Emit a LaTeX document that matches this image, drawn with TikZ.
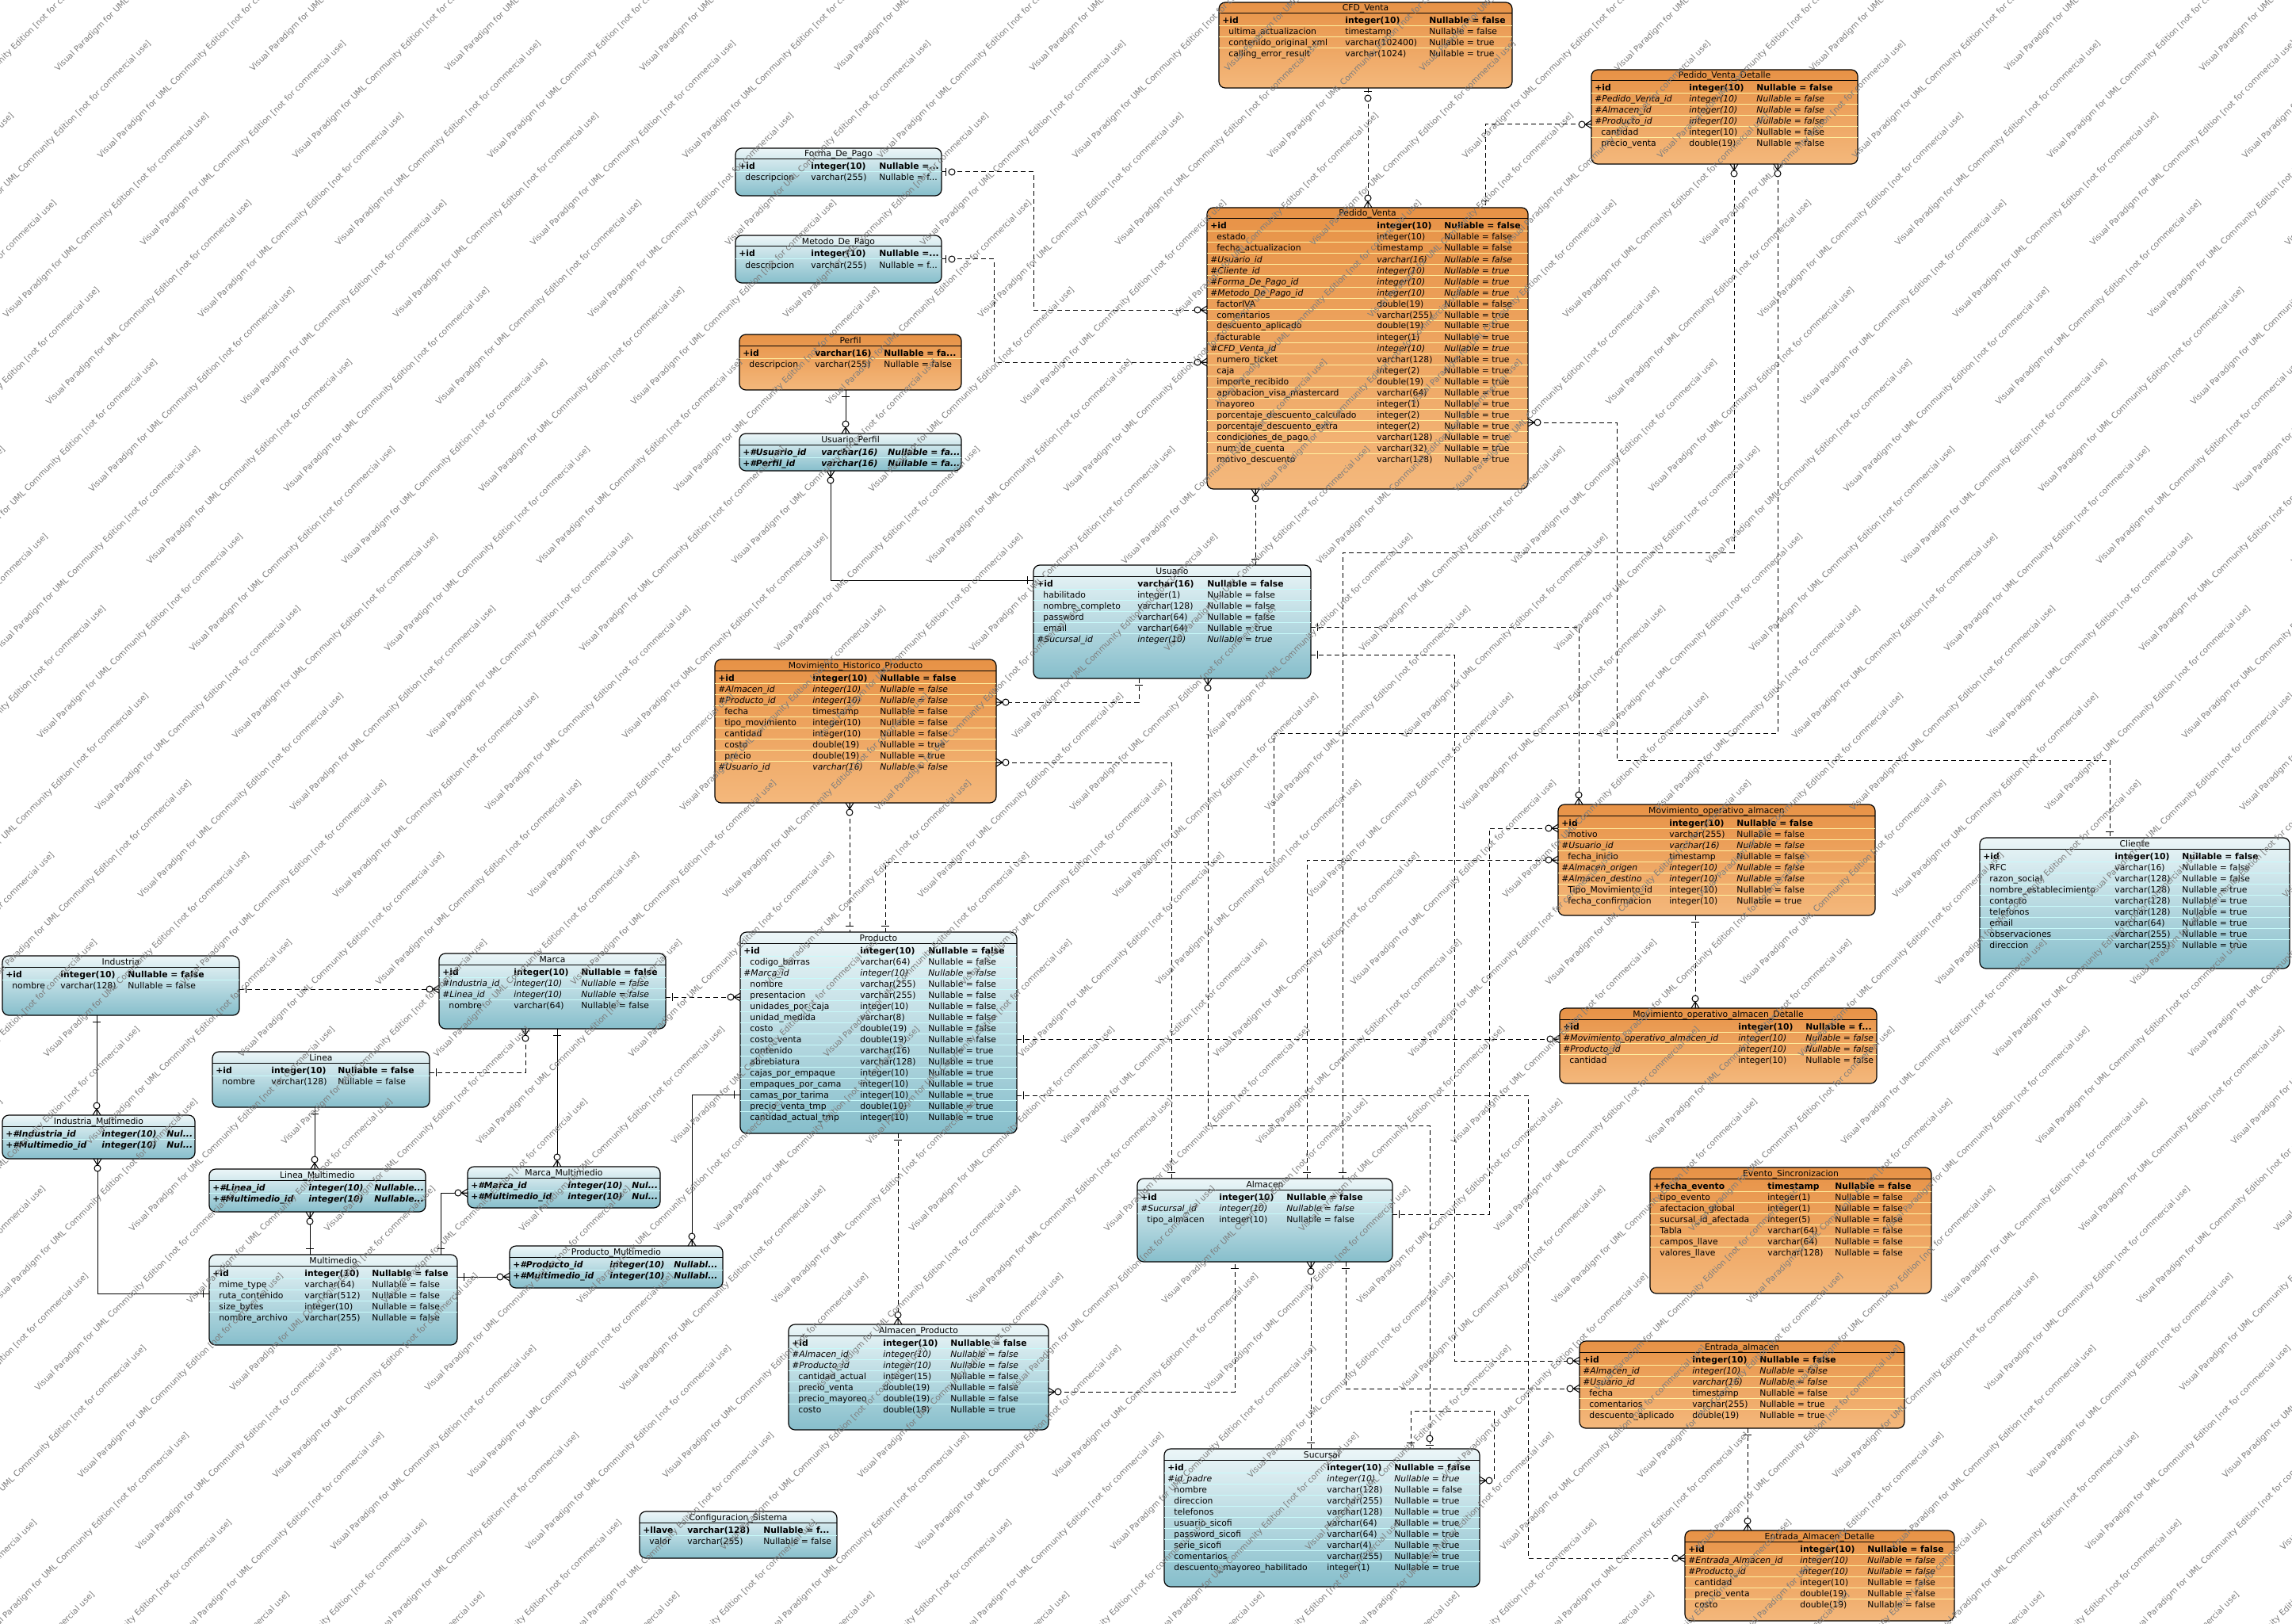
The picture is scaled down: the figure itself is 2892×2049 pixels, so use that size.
\documentclass[tikz,border=0pt]{standalone}
\usepackage{fontspec}
\setmainfont{DejaVu Sans}
\usetikzlibrary{fit}
\definecolor{otop}{RGB}{231,146,70}
\definecolor{obot}{RGB}{244,184,124}
\definecolor{btop}{RGB}{236,246,248}
\definecolor{bbot}{RGB}{134,190,203}
\definecolor{osep}{RGB}{255,240,160}
\definecolor{bsep}{RGB}{200,250,250}
\definecolor{wmgray}{RGB}{125,125,125}
\newcommand\fs{\fontsize{5.4}{6}\selectfont}
\newcount\rwi
\def\offk{4}\def\offf{4}\def\offkf{4}\def\offn{12}
% table: id, title, x, y, w, h, colour (o/b), col2, col3
\newcommand\tb[9]{%
  \gdef\tid{#1}\gdef\tx{#3}\gdef\ty{#4}\gdef\tw{#5}\gdef\sepcol{#7sep}%
  \gdef\tcb{#8}\gdef\tcc{#9}\global\rwi=0
  \coordinate (#1-nw) at (#3,#4);
  \coordinate (#1-se) at (#3+#5,#4+#6);
  \node[tbl#7, fit=(#1-nw)(#1-se)] (#1) {};
  \node[ttl] (#1-title) at (#3+#5/2,#4+11) {#2};
  \draw[hline] (#3,#4+14) -- (#3+#5,#4+14);
}
% row: style (k,f,kf,n), name, type, nullable
\newcommand\rw[4]{%
  \global\advance\rwi by 1
  \edef\rn{\the\rwi}\edef\roff{\csname off#1\endcsname}%
  \pgfmathsetmacro\ry{\ty+23+14*(\rn-1)}%
  \ifnum\rwi>1 \draw[line width=0.5pt,draw=\sepcol] (\tx,\ry-7) -- (\tx+\tw,\ry-7);\fi
  \node[txt,r#1] (\tid-\rn a) at (\tx+\roff,\ry+4) {#2};
  \node[txt,r#1] (\tid-\rn b) at (\tx+\tcb,\ry+4) {#3};
  \node[txt,r#1] (\tid-\rn c) at (\tx+\tcc,\ry+4) {#4};
}
\newcommand\mOne[2]{\begin{scope}[shift={(#1)},rotate=#2]\draw[mk] (8,-5) -- (8,5);\end{scope}}
\newcommand\mZO[2]{\begin{scope}[shift={(#1)},rotate=#2]\draw[mk] (5,-5) -- (5,5); \draw[mk,fill=white] (13,0) circle[radius=4];\end{scope}}
\newcommand\mMany[2]{\begin{scope}[shift={(#1)},rotate=#2]\draw[mk] (0,-5) -- (8,0) -- (0,5) (0,0) -- (8,0); \draw[mk,fill=white] (12,0) circle[radius=4];\end{scope}}
\begin{document}
\catcode`\_=12
\begin{tikzpicture}[x=0.5pt,y=-0.5pt,
  tblo/.style={draw=black,line width=0.6pt,rounded corners=4pt,top color=otop,bottom color=obot,inner sep=0pt,outer sep=0pt},
  tblb/.style={draw=black,line width=0.6pt,rounded corners=4pt,top color=btop,bottom color=bbot,inner sep=0pt,outer sep=0pt},
  ttl/.style={anchor=base,inner sep=0pt,font=\fs},
  txt/.style={anchor=base west,inner sep=0pt},
  rk/.style={font=\fs\bfseries}, rf/.style={font=\fs\itshape},
  rkf/.style={font=\fs\bfseries\itshape}, rn/.style={font=\fs},
  hline/.style={line width=0.5pt},
  dsh/.style={line width=0.5pt,dash pattern=on 3pt off 2pt},
  sol/.style={line width=0.5pt},
  mk/.style={line width=0.5pt,solid},
  wm/.style={rotate=45,anchor=base west,inner sep=0pt,text=wmgray,font=\fontsize{5.2}{6}\selectfont}]
\fill[white] (0,0) rectangle (2892,2049);
\useasboundingbox (0,0) rectangle (2892,2049);

% ---------------- tables ----------------
\tb{CFD}{CFD_Venta}{1538}{3}{370}{108}{o}{159}{265}
\rw{k}{+id}{integer(10)}{Nullable = false}
\rw{n}{ultima_actualizacion}{timestamp}{Nullable = false}
\rw{n}{contenido_original_xml}{varchar(102400)}{Nullable = true}
\rw{n}{calling_error_result}{varchar(1024)}{Nullable = true}

\tb{PVD}{Pedido_Venta_Detalle}{2008}{88}{336}{119}{o}{123}{208}
\rw{k}{+id}{integer(10)}{Nullable = false}
\rw{f}{\#Pedido_Venta_id}{integer(10)}{Nullable = false}
\rw{f}{\#Almacen_id}{integer(10)}{Nullable = false}
\rw{f}{\#Producto_id}{integer(10)}{Nullable = false}
\rw{n}{cantidad}{integer(10)}{Nullable = false}
\rw{n}{precio_venta}{double(19)}{Nullable = false}

\tb{FP}{Forma_De_Pago}{928}{187}{260}{60}{b}{95}{181}
\rw{k}{+id}{integer(10)}{Nullable =...}
\rw{n}{descripcion}{varchar(255)}{Nullable = f...}

\tb{MP}{Metodo_De_Pago}{928}{297}{260}{60}{b}{95}{181}
\rw{k}{+id}{integer(10)}{Nullable =...}
\rw{n}{descripcion}{varchar(255)}{Nullable = f...}

\tb{PF}{Perfil}{933}{422}{280}{70}{o}{95}{182}
\rw{k}{+id}{varchar(16)}{Nullable = fa...}
\rw{n}{descripcion}{varchar(255)}{Nullable = false}

\tb{UP}{Usuario_Perfil}{933}{547}{280}{47}{b}{103}{187}
\rw{kf}{+\#Usuario_id}{varchar(16)}{Nullable = fa...}
\rw{kf}{+\#Perfil_id}{varchar(16)}{Nullable = fa...}

\tb{PV}{Pedido_Venta}{1523}{262}{405}{355}{o}{214}{299}
\rw{k}{+id}{integer(10)}{Nullable = false}
\rw{n}{estado}{integer(10)}{Nullable = false}
\rw{n}{fecha_actualizacion}{timestamp}{Nullable = false}
\rw{f}{\#Usuario_id}{varchar(16)}{Nullable = false}
\rw{f}{\#Cliente_id}{integer(10)}{Nullable = true}
\rw{f}{\#Forma_De_Pago_id}{integer(10)}{Nullable = true}
\rw{f}{\#Metodo_De_Pago_id}{integer(10)}{Nullable = true}
\rw{n}{factorIVA}{double(19)}{Nullable = false}
\rw{n}{comentarios}{varchar(255)}{Nullable = true}
\rw{n}{descuento_aplicado}{double(19)}{Nullable = true}
\rw{n}{facturable}{integer(1)}{Nullable = true}
\rw{f}{\#CFD_Venta_id}{integer(10)}{Nullable = true}
\rw{n}{numero_ticket}{varchar(128)}{Nullable = true}
\rw{n}{caja}{integer(2)}{Nullable = true}
\rw{n}{importe_recibido}{double(19)}{Nullable = true}
\rw{n}{aprobacion_visa_mastercard}{varchar(64)}{Nullable = true}
\rw{n}{mayoreo}{integer(1)}{Nullable = true}
\rw{n}{porcentaje_descuento_calculado}{integer(2)}{Nullable = true}
\rw{n}{porcentaje_descuento_extra}{integer(2)}{Nullable = true}
\rw{n}{condiciones_de_pago}{varchar(128)}{Nullable = true}
\rw{n}{num_de_cuenta}{varchar(32)}{Nullable = true}
\rw{n}{motivo_descuento}{varchar(128)}{Nullable = true}

\tb{US}{Usuario}{1304}{713}{350}{143}{b}{131}{219}
\rw{k}{+id}{varchar(16)}{Nullable = false}
\rw{n}{habilitado}{integer(1)}{Nullable = false}
\rw{n}{nombre_completo}{varchar(128)}{Nullable = false}
\rw{n}{password}{varchar(64)}{Nullable = false}
\rw{n}{email}{varchar(64)}{Nullable = true}
\rw{f}{\#Sucursal_id}{integer(10)}{Nullable = true}

\tb{MHP}{Movimiento_Historico_Producto}{902}{832}{355}{181}{o}{123}{208}
\rw{k}{+id}{integer(10)}{Nullable = false}
\rw{f}{\#Almacen_id}{integer(10)}{Nullable = false}
\rw{f}{\#Producto_id}{integer(10)}{Nullable = false}
\rw{n}{fecha}{timestamp}{Nullable = false}
\rw{n}{tipo_movimiento}{integer(10)}{Nullable = false}
\rw{n}{cantidad}{integer(10)}{Nullable = false}
\rw{n}{costo}{double(19)}{Nullable = true}
\rw{n}{precio}{double(19)}{Nullable = true}
\rw{f}{\#Usuario_id}{varchar(16)}{Nullable = false}

\tb{MOA}{Movimiento_operativo_almacen}{1966}{1015}{400}{140}{o}{140}{225}
\rw{k}{+id}{integer(10)}{Nullable = false}
\rw{n}{motivo}{varchar(255)}{Nullable = false}
\rw{f}{\#Usuario_id}{varchar(16)}{Nullable = false}
\rw{n}{fecha_inicio}{timestamp}{Nullable = false}
\rw{f}{\#Almacen_origen}{integer(10)}{Nullable = false}
\rw{f}{\#Almacen_destino}{integer(10)}{Nullable = false}
\rw{n}{Tipo_Movimiento_id}{integer(10)}{Nullable = false}
\rw{n}{fecha_confirmacion}{integer(10)}{Nullable = true}

\tb{CL}{Cliente}{2498}{1057}{391}{165}{b}{170}{255}
\rw{k}{+id}{integer(10)}{Nullable = false}
\rw{n}{RFC}{varchar(16)}{Nullable = false}
\rw{n}{razon_social}{varchar(128)}{Nullable = false}
\rw{n}{nombre_establecimiento}{varchar(128)}{Nullable = true}
\rw{n}{contacto}{varchar(128)}{Nullable = true}
\rw{n}{telefonos}{varchar(128)}{Nullable = true}
\rw{n}{email}{varchar(64)}{Nullable = true}
\rw{n}{observaciones}{varchar(255)}{Nullable = true}
\rw{n}{direccion}{varchar(255)}{Nullable = true}

\tb{IN}{Industria}{3}{1206}{299}{75}{b}{73}{158}
\rw{k}{+id}{integer(10)}{Nullable = false}
\rw{n}{nombre}{varchar(128)}{Nullable = false}

\tb{MA}{Marca}{554}{1203}{286}{95}{b}{94}{179}
\rw{k}{+id}{integer(10)}{Nullable = false}
\rw{f}{\#Industria_id}{integer(10)}{Nullable = false}
\rw{f}{\#Linea_id}{integer(10)}{Nullable = false}
\rw{n}{nombre}{varchar(64)}{Nullable = false}

\tb{PR}{Producto}{934}{1176}{349}{254}{b}{151}{237}
\rw{k}{+id}{integer(10)}{Nullable = false}
\rw{n}{codigo_barras}{varchar(64)}{Nullable = false}
\rw{f}{\#Marca_id}{integer(10)}{Nullable = false}
\rw{n}{nombre}{varchar(255)}{Nullable = false}
\rw{n}{presentacion}{varchar(255)}{Nullable = false}
\rw{n}{unidades_por_caja}{integer(10)}{Nullable = false}
\rw{n}{unidad_medida}{varchar(8)}{Nullable = false}
\rw{n}{costo}{double(19)}{Nullable = false}
\rw{n}{costo_venta}{double(19)}{Nullable = false}
\rw{n}{contenido}{varchar(16)}{Nullable = true}
\rw{n}{abrebiatura}{varchar(128)}{Nullable = true}
\rw{n}{cajas_por_empaque}{integer(10)}{Nullable = true}
\rw{n}{empaques_por_cama}{integer(10)}{Nullable = true}
\rw{n}{camas_por_tarima}{integer(10)}{Nullable = true}
\rw{n}{precio_venta_tmp}{double(10)}{Nullable = true}
\rw{n}{cantidad_actual_tmp}{integer(10)}{Nullable = true}

\tb{LI}{Linea}{268}{1327}{274}{70}{b}{74}{158}
\rw{k}{+id}{integer(10)}{Nullable = false}
\rw{n}{nombre}{varchar(128)}{Nullable = false}

\tb{IM}{Industria_Multimedio}{3}{1407}{243}{55}{b}{125}{207}
\rw{kf}{+\#Industria_id}{integer(10)}{Nul...}
\rw{kf}{+\#Multimedio_id}{integer(10)}{Nul...}

\tb{LM}{Linea_Multimedio}{264}{1475}{273}{54}{b}{125}{208}
\rw{kf}{+\#Linea_id}{integer(10)}{Nullable...}
\rw{kf}{+\#Multimedio_id}{integer(10)}{Nullable...}

\tb{MM}{Marca_Multimedio}{590}{1472}{243}{52}{b}{126}{207}
\rw{kf}{+\#Marca_id}{integer(10)}{Nul...}
\rw{kf}{+\#Multimedio_id}{integer(10)}{Nul...}

\tb{MU}{Multimedio}{264}{1583}{313}{114}{b}{120}{205}
\rw{k}{+id}{integer(10)}{Nullable = false}
\rw{n}{mime_type}{varchar(64)}{Nullable = false}
\rw{n}{ruta_contenido}{varchar(512)}{Nullable = false}
\rw{n}{size_bytes}{integer(10)}{Nullable = false}
\rw{n}{nombre_archivo}{varchar(255)}{Nullable = false}

\tb{PM}{Producto_Multimedio}{643}{1572}{269}{53}{b}{126}{207}
\rw{kf}{+\#Producto_id}{integer(10)}{Nullabl...}
\rw{kf}{+\#Multimedio_id}{integer(10)}{Nullabl...}

\tb{MOAD}{Movimiento_operativo_almacen_Detalle}{1968}{1272}{400}{95}{o}{225}{310}
\rw{k}{+id}{integer(10)}{Nullable = f...}
\rw{f}{\#Movimiento_operativo_almacen_id}{integer(10)}{Nullable = false}
\rw{f}{\#Producto_id}{integer(10)}{Nullable = false}
\rw{n}{cantidad}{integer(10)}{Nullable = false}

\tb{AL}{Almacen}{1435}{1487}{322}{105}{b}{103}{188}
\rw{k}{+id}{integer(10)}{Nullable = false}
\rw{f}{\#Sucursal_id}{integer(10)}{Nullable = false}
\rw{n}{tipo_almacen}{integer(10)}{Nullable = false}

\tb{ES}{Evento_Sincronizacion}{2082}{1473}{355}{159}{o}{148}{233}
\rw{k}{+fecha_evento}{timestamp}{Nullable = false}
\rw{n}{tipo_evento}{integer(1)}{Nullable = false}
\rw{n}{afectacion_global}{integer(1)}{Nullable = false}
\rw{n}{sucursal_id_afectada}{integer(5)}{Nullable = false}
\rw{n}{Tabla}{varchar(64)}{Nullable = false}
\rw{n}{campos_llave}{varchar(64)}{Nullable = false}
\rw{n}{valores_llave}{varchar(128)}{Nullable = false}

\tb{AP}{Almacen_Producto}{995}{1671}{328}{133}{b}{119}{204}
\rw{k}{+id}{integer(10)}{Nullable = false}
\rw{f}{\#Almacen_id}{integer(10)}{Nullable = false}
\rw{f}{\#Producto_id}{integer(10)}{Nullable = false}
\rw{n}{cantidad_actual}{integer(15)}{Nullable = false}
\rw{n}{precio_venta}{double(19)}{Nullable = false}
\rw{n}{precio_mayoreo}{double(19)}{Nullable = false}
\rw{n}{costo}{double(19)}{Nullable = true}

\tb{EA}{Entrada_almacen}{1993}{1692}{410}{110}{o}{142}{227}
\rw{k}{+id}{integer(10)}{Nullable = false}
\rw{f}{\#Almacen_id}{integer(10)}{Nullable = false}
\rw{f}{\#Usuario_id}{varchar(16)}{Nullable = false}
\rw{n}{fecha}{timestamp}{Nullable = false}
\rw{n}{comentarios}{varchar(255)}{Nullable = true}
\rw{n}{descuento_aplicado}{double(19)}{Nullable = true}

\tb{SU}{Sucursal}{1469}{1828}{398}{174}{b}{205}{290}
\rw{k}{+id}{integer(10)}{Nullable = false}
\rw{f}{\#id_padre}{integer(10)}{Nullable = true}
\rw{n}{nombre}{varchar(128)}{Nullable = false}
\rw{n}{direccion}{varchar(255)}{Nullable = true}
\rw{n}{telefonos}{varchar(128)}{Nullable = true}
\rw{n}{usuario_sicofi}{varchar(64)}{Nullable = true}
\rw{n}{password_sicofi}{varchar(64)}{Nullable = true}
\rw{n}{serie_sicofi}{varchar(4)}{Nullable = true}
\rw{n}{comentarios}{varchar(255)}{Nullable = true}
\rw{n}{descuento_mayoreo_habilitado}{integer(1)}{Nullable = true}

\tb{CS}{Configuracion_Sistema}{807}{1907}{249}{59}{b}{60}{156}
\rw{k}{+llave}{varchar(128)}{Nullable = f...}
\rw{n}{valor}{varchar(255)}{Nullable = false}

\tb{EAD}{Entrada_Almacen_Detalle}{2126}{1931}{340}{114}{o}{145}{230}
\rw{k}{+id}{integer(10)}{Nullable = false}
\rw{f}{\#Entrada_Almacen_id}{integer(10)}{Nullable = false}
\rw{f}{\#Producto_id}{integer(10)}{Nullable = false}
\rw{n}{cantidad}{integer(10)}{Nullable = false}
\rw{n}{precio_venta}{double(19)}{Nullable = false}
\rw{n}{costo}{double(19)}{Nullable = false}

% ---------------- connectors ----------------
\draw[dsh] (CFD.south -| 1726,0) -- (PV.north -| 1726,0);
\mZO{CFD.south -| 1726,0}{270}\mMany{PV.north -| 1726,0}{90}

\draw[dsh] (PVD.west |- 0,157) -- (1874,157) -- (PV.north -| 1874,0);
\mMany{PVD.west |- 0,157}{180}\mOne{PV.north -| 1874,0}{90}

\draw[dsh] (PV.east |- 0,533) -- (2040,533) -- (2040,959) -- (2662,959) -- (CL.north -| 2662,0);
\mMany{PV.east |- 0,533}{0}\mOne{CL.north -| 2662,0}{90}

\draw[dsh] (PVD.south -| 2188,0) -- (2188,697) -- (1694,697) -- (AL.north -| 1694,0);
\mMany{PVD.south -| 2188,0}{270}\mOne{AL.north -| 1694,0}{90}

\draw[dsh] (PVD.south -| 2243,0) -- (2243,925) -- (1607,925) -- (1607,1088) -- (1117,1088) -- (PR.north -| 1117,0);
\mMany{PVD.south -| 2243,0}{270}\mOne{PR.north -| 1117,0}{90}

\draw[dsh] (FP.east |- 0,217) -- (1304,217) -- (1304,391) -- (PV.west |- 0,391);
\mZO{FP.east |- 0,217}{0}\mMany{PV.west |- 0,391}{180}

\draw[dsh] (MP.east |- 0,327) -- (1254,327) -- (1254,457) -- (PV.west |- 0,457);
\mZO{MP.east |- 0,327}{0}\mMany{PV.west |- 0,457}{180}

\draw[sol] (PF.south -| 1067,0) -- (UP.north -| 1067,0);
\mOne{PF.south -| 1067,0}{270}\mMany{UP.north -| 1067,0}{90}

\draw[sol] (UP.south -| 1048,0) -- (1048,732) -- (US.west |- 0,732);
\mMany{UP.south -| 1048,0}{270}\mOne{US.west |- 0,732}{180}

\draw[dsh] (PV.south -| 1584,0) -- (US.north -| 1584,0);
\mMany{PV.south -| 1584,0}{270}\mOne{US.north -| 1584,0}{90}

\draw[dsh] (US.east |- 0,791) -- (1992,791) -- (MOA.north -| 1992,0);
\mOne{US.east |- 0,791}{0}\mMany{MOA.north -| 1992,0}{90}

\draw[dsh] (US.east |- 0,826) -- (1835,826) -- (1835,1717) -- (EA.west |- 0,1717);
\mOne{US.east |- 0,826}{0}\mMany{EA.west |- 0,1717}{180}

\draw[dsh] (US.south -| 1524,0) -- (1524,1420) -- (1804,1420) -- (SU.north -| 1804,0);
\mMany{US.south -| 1524,0}{270}\mZO{SU.north -| 1804,0}{90}

\draw[dsh] (US.south -| 1437,0) -- (1437,886) -- (MHP.east |- 0,886);
\mOne{US.south -| 1437,0}{270}\mMany{MHP.east |- 0,886}{0}

\draw[dsh] (MHP.east |- 0,962) -- (1478,962) -- (AL.north -| 1478,0);
\mMany{MHP.east |- 0,962}{0}\mOne{AL.north -| 1478,0}{90}

\draw[dsh] (MHP.south -| 1072,0) -- (PR.north -| 1072,0);
\mMany{MHP.south -| 1072,0}{270}\mOne{PR.north -| 1072,0}{90}

\draw[dsh] (AL.east |- 0,1532) -- (1879,1532) -- (1879,1045) -- (MOA.west |- 0,1045);
\mOne{AL.east |- 0,1532}{0}\mMany{MOA.west |- 0,1045}{180}

\draw[dsh] (AL.north -| 1649,0) -- (1649,1085) -- (MOA.west |- 0,1085);
\mOne{AL.north -| 1649,0}{90}\mMany{MOA.west |- 0,1085}{180}

\draw[dsh] (IN.east |- 0,1248) -- (MA.west |- 0,1248);
\mOne{IN.east |- 0,1248}{0}\mMany{MA.west |- 0,1248}{180}

\draw[dsh] (LI.east |- 0,1353) -- (663,1353) -- (MA.south -| 663,0);
\mOne{LI.east |- 0,1353}{0}\mMany{MA.south -| 663,0}{270}

\draw[sol] (IN.south -| 122,0) -- (IM.north -| 122,0);
\mOne{IN.south -| 122,0}{270}\mMany{IM.north -| 122,0}{90}

\draw[sol] (LI.south -| 397,0) -- (LM.north -| 397,0);
\mOne{LI.south -| 397,0}{270}\mMany{LM.north -| 397,0}{90}

\draw[sol] (MA.south -| 703,0) -- (MM.north -| 703,0);
\mOne{MA.south -| 703,0}{270}\mMany{MM.north -| 703,0}{90}

\draw[sol] (IM.south -| 123,0) -- (123,1632) -- (MU.west |- 0,1632);
\mMany{IM.south -| 123,0}{270}\mOne{MU.west |- 0,1632}{180}

\draw[sol] (LM.south -| 391,0) -- (MU.north -| 391,0);
\mMany{LM.south -| 391,0}{270}\mOne{MU.north -| 391,0}{90}

\draw[sol] (MU.north -| 556,0) -- (556,1505) -- (MM.west |- 0,1505);
\mOne{MU.north -| 556,0}{90}\mMany{MM.west |- 0,1505}{180}

\draw[sol] (MU.east |- 0,1611) -- (PM.west |- 0,1611);
\mOne{MU.east |- 0,1611}{0}\mMany{PM.west |- 0,1611}{180}

\draw[sol] (PR.west |- 0,1381) -- (873,1381) -- (PM.north -| 873,0);
\mOne{PR.west |- 0,1381}{180}\mMany{PM.north -| 873,0}{90}

\draw[dsh] (MA.east |- 0,1258) -- (PR.west |- 0,1258);
\mOne{MA.east |- 0,1258}{0}\mMany{PR.west |- 0,1258}{180}

\draw[dsh] (PR.east |- 0,1311) -- (MOAD.west |- 0,1311);
\mOne{PR.east |- 0,1311}{0}\mMany{MOAD.west |- 0,1311}{180}

\draw[dsh] (PR.east |- 0,1382) -- (1928,1382) -- (1928,1966) -- (EAD.west |- 0,1966);
\mOne{PR.east |- 0,1382}{0}\mMany{EAD.west |- 0,1966}{180}

\draw[dsh] (PR.south -| 1133,0) -- (AP.north -| 1133,0);
\mOne{PR.south -| 1133,0}{270}\mMany{AP.north -| 1133,0}{90}

\draw[dsh] (AP.east |- 0,1756) -- (1558,1756) -- (AL.south -| 1558,0);
\mMany{AP.east |- 0,1756}{0}\mOne{AL.south -| 1558,0}{270}

\draw[dsh] (AL.south -| 1654,0) -- (SU.north -| 1654,0);
\mMany{AL.south -| 1654,0}{270}\mOne{SU.north -| 1654,0}{90}

\draw[dsh] (AL.south -| 1698,0) -- (1698,1752) -- (EA.west |- 0,1752);
\mOne{AL.south -| 1698,0}{270}\mMany{EA.west |- 0,1752}{180}

\draw[dsh] (SU.east |- 0,1868) -- (1885,1868) -- (1885,1780) -- (1780,1780) -- (SU.north -| 1780,0);
\mMany{SU.east |- 0,1868}{0}\mOne{SU.north -| 1780,0}{90}

\draw[dsh] (MOA.south -| 2139,0) -- (MOAD.north -| 2139,0);
\mOne{MOA.south -| 2139,0}{270}\mMany{MOAD.north -| 2139,0}{90}

\draw[dsh] (EA.south -| 2205,0) -- (EAD.north -| 2205,0);
\mOne{EA.south -| 2205,0}{270}\mMany{EAD.north -| 2205,0}{90}

% ---------------- watermark ----------------
\begin{scope}
\clip (0,0) rectangle (2892,2049);
\foreach \i in {0,...,60} {
  \pgfmathsetmacro\cx{\i*82+mod(\i,3)*110}
  \pgfmathsetmacro\cy{-mod(\i,3)*110}
  \foreach \k in {-8,...,1} {
    \node[wm] (wm-\i-\k) at (\cx+\k*311,\cy-\k*311) {Visual Paradigm for UML Community Edition [not for commercial use]};
  }
}
\end{scope}
\end{tikzpicture}
\end{document}
